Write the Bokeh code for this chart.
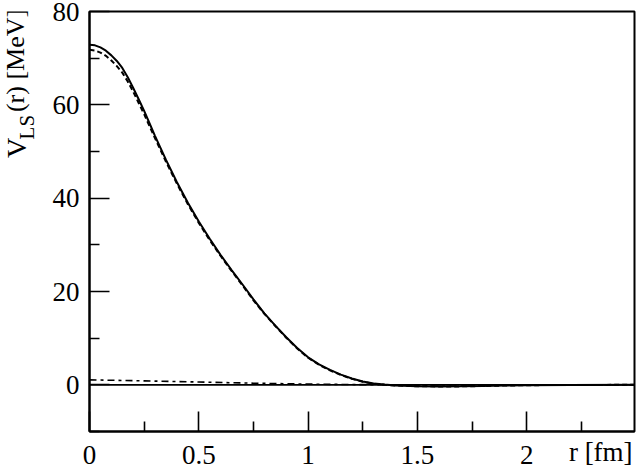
import math
from bokeh.plotting import figure
from bokeh.layouts import row
from bokeh.models import Range1d, FixedTicker, Span
from bokeh.core.properties import value
from bokeh.embed import file_html
from bokeh.resources import INLINE

# ---- data ----
r_main = [0.0, 0.025, 0.05, 0.075, 0.1, 0.125, 0.15, 0.175, 0.2, 0.225, 0.25, 0.275, 0.3,
          0.35, 0.4, 0.45, 0.5, 0.55, 0.6, 0.65, 0.7, 0.75, 0.8, 0.85, 0.9, 0.95, 1.0,
          1.05, 1.1, 1.15, 1.2, 1.25, 1.3, 1.35, 1.4, 1.5, 1.6, 1.7, 1.8, 1.9, 2.0, 2.2, 2.5]
v_solid = [72.9, 72.75, 72.3, 71.6, 70.6, 69.4, 67.9, 65.9, 63.6, 61.2, 58.7, 56.0, 53.3,
           48.2, 43.4, 39.0, 35.0, 31.3, 27.8, 24.6, 21.5, 18.3, 15.3, 12.7, 10.2, 7.9, 5.9,
           4.4, 3.2, 2.2, 1.35, 0.7, 0.3, 0.05, -0.15, -0.3, -0.35, -0.33, -0.25, -0.15,
           -0.08, -0.02, 0.0]
v_dashed = [71.8, 71.65, 71.2, 70.5, 69.5, 68.3, 66.9, 65.0, 62.8, 60.4, 58.0, 55.4, 52.8,
            47.8, 43.1, 38.7, 34.7, 31.0, 27.6, 24.4, 21.3, 18.1, 15.2, 12.6, 10.1, 7.8, 5.8,
            4.3, 3.1, 2.1, 1.3, 0.65, 0.25, 0.0, -0.15, -0.3, -0.35, -0.33, -0.25, -0.15,
            -0.08, -0.02, 0.0]
r_dashdot = [0.0, 0.25, 0.5, 0.75, 1.0, 1.25, 1.5, 2.0, 2.5]
v_dashdot = [1.07, 0.85, 0.6, 0.35, 0.15, 0.04, 0.0, 0.0, 0.0]

x_ticks = [0.0, 0.5, 1.0, 1.5, 2.0]
x_tick_labels = ["0", "0.5", "1", "1.5", "2"]
x_minor = [0.25, 0.75, 1.25, 1.75, 2.25]
y_ticks = [0.0, 20.0, 40.0, 60.0, 80.0]
y_tick_labels = ["0", "20", "40", "60", "80"]
y_minor = [-10.0, 10.0, 30.0, 50.0, 70.0]

x_title = "r [fm]"
y_title_parts = ["V", "LS", "(r) [MeV]"]

XMIN, XMAX = 0.0, 2.493
YMIN, YMAX = -10.0, 80.0

FONT = "Liberation Serif"
W, H = 640, 476
LW = 40                     # width of the strip that holds the y title
FL, FR, FT, FB = 89, 634, 11, 431   # frame edges on the canvas
PAD = "\u00a0" * 10          # the axis title is centred on the frame end; pad so it ends there

# ---- strip with the rotated y title (subscripted) ----
lf = figure(width=LW, height=H, x_range=Range1d(0, LW), y_range=Range1d(H, 0),
            output_backend="svg", toolbar_location=None,
            x_axis_type=None, y_axis_type=None,
            min_border_left=0, min_border_right=0, min_border_top=0, min_border_bottom=0)
lf.outline_line_color = None
lf.background_fill_color = "white"
lf.border_fill_color = "white"
lf.xgrid.visible = False
lf.ygrid.visible = False
ang = math.pi / 2
lf.text(x=[16], y=[166], text=[y_title_parts[0]], angle=ang, text_font=value(FONT),
        text_font_size="28px", text_baseline="alphabetic", text_align="left", text_color="black")
lf.text(x=[26], y=[145], text=[y_title_parts[1]], angle=ang, text_font=value(FONT),
        text_font_size="21px", text_baseline="alphabetic", text_align="left", text_color="black")
lf.text(x=[15], y=[114], text=[y_title_parts[2]], angle=ang, text_font=value(FONT),
        text_font_size="26px", text_baseline="alphabetic", text_align="left", text_color="black")

# ---- main plot ----
p = figure(width=W - LW, height=H, x_range=Range1d(XMIN, XMAX), y_range=Range1d(YMIN, YMAX),
           output_backend="svg", toolbar_location=None,
           min_border_left=FL - LW, min_border_right=W - FR, min_border_top=FT,
           min_border_bottom=H - FB)
p.background_fill_color = "white"
p.border_fill_color = "white"
p.outline_line_color = "black"
p.outline_line_width = 2
p.xgrid.visible = False
p.ygrid.visible = False

for ax, ticks, minor, labels in ((p.xaxis[0], x_ticks, x_minor, x_tick_labels),
                                 (p.yaxis[0], y_ticks, y_minor, y_tick_labels)):
    ax.ticker = FixedTicker(ticks=ticks, minor_ticks=minor)
    ax.major_label_overrides = {t: l for t, l in zip(ticks, labels)}
    ax.axis_line_color = "black"
    ax.axis_line_width = 2
    ax.major_tick_in = 20
    ax.major_tick_out = 0
    ax.minor_tick_in = 10
    ax.minor_tick_out = 0
    ax.major_tick_line_width = 1.6
    ax.minor_tick_line_width = 1.6
    ax.major_tick_line_color = "black"
    ax.minor_tick_line_color = "black"
    ax.major_label_text_font = FONT
    ax.major_label_text_font_size = "27px"
    ax.major_label_text_color = "black"

p.yaxis[0].major_label_standoff = 10
xa = p.xaxis[0]
xa.major_label_standoff = 14
xa.axis_label = x_title + PAD
xa.axis_label_text_font = FONT
xa.axis_label_text_font_size = "27px"
xa.axis_label_text_font_style = "normal"
xa.axis_label_text_color = "black"
xa.axis_label_standoff = -30
xa.axis_label_align = "end"

# zero line
p.add_layout(Span(location=0, dimension="width", line_color="black", line_width=1.6))

p.line(r_main, v_solid, line_color="black", line_width=2)
p.line(r_main, v_dashed, line_color="black", line_width=2, line_dash="5 3")
p.line(r_dashdot, v_dashdot, line_color="black", line_width=1.6, line_dash="7 4 3 4")

layout = row(lf, p)

open("out.html", "w").write(file_html(layout, INLINE))
